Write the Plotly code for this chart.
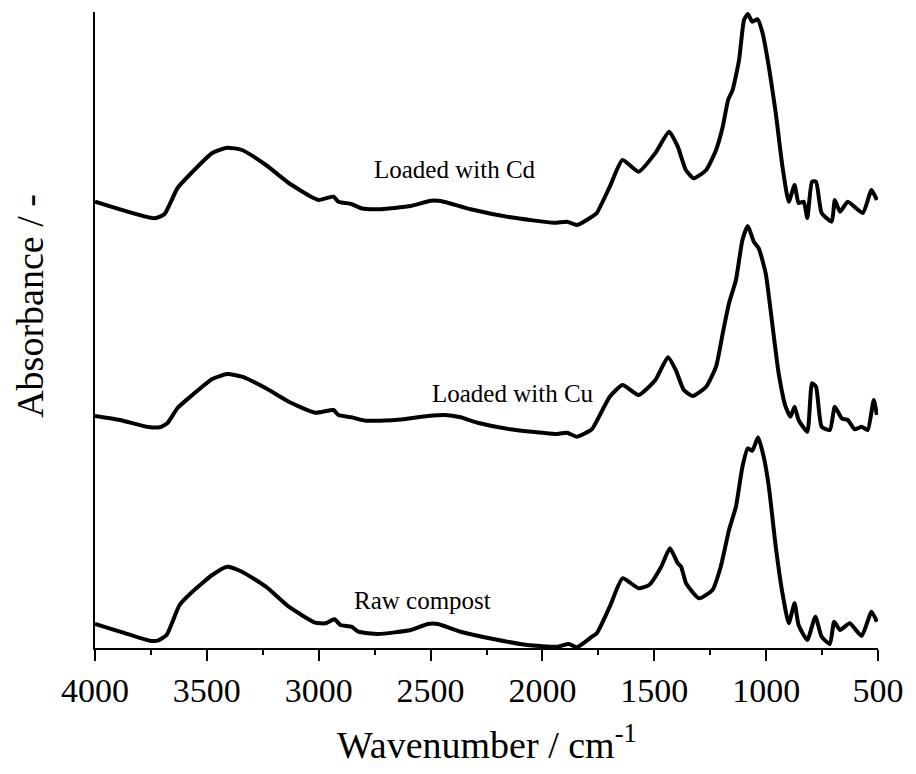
import plotly.graph_objects as go

# Wavenumber (cm-1) and absorbance (arbitrary, offset-stacked units)
cd_wn = [4000, 3733, 3689, 3631, 3565, 3476, 3409, 3343, 3236, 3134, 3032, 3000, 2934, 2912, 2854,
         2810, 2734, 2588, 2499, 2455, 2321, 2143, 1948, 1890, 1846, 1779, 1757, 1699, 1642, 1570,
         1495, 1434, 1395, 1359, 1323, 1268, 1224, 1194, 1170, 1150, 1121, 1099, 1082, 1062, 1038,
         1016, 988, 957, 927, 899, 873, 855, 832, 816, 795, 777, 752, 707, 693, 670, 635, 568, 529, 505]
cd_abs = [446.3, 429.7, 434, 460, 476, 495, 500.3, 498, 483, 465, 451, 448, 451.3, 446.3, 444,
          439.7, 438.7, 442, 447.3, 447, 438.7, 430.7, 425.3, 426.3, 423, 431.3, 435, 461.3, 488, 476.3,
          495, 516.3, 501.3, 478, 469.7, 478, 498, 521.3, 548, 558, 588, 628, 634, 626.3, 628.7,
          615, 581.3, 535, 481.3, 446.3, 463, 445, 446.3, 430, 466.3, 466.3, 435, 426.3, 448, 436.3, 446.3, 435, 458, 448]

cu_wn = [4000, 3889, 3769, 3711, 3676, 3631, 3565, 3476, 3409, 3343, 3236, 3134, 3015, 2934, 2912,
         2854, 2792, 2659, 2512, 2437, 2366, 2290, 2143, 1935, 1890, 1846, 1779, 1757, 1699, 1642,
         1570, 1495, 1439, 1404, 1368, 1328, 1268, 1224, 1194, 1166, 1135, 1106, 1082, 1055, 1033,
         1002, 971, 944, 913, 891, 873, 855, 816, 795, 777, 752, 715, 693, 662, 635, 604, 573, 546, 519, 505]
cu_abs = [232, 228, 221.3, 220.7, 225, 240, 253, 269, 274, 271.3, 259.7, 246.3, 235.3, 238, 233,
          230.7, 227.3, 228, 232, 233, 230.7, 225.3, 218.7, 214, 215.3, 211.3, 218.7, 227, 251.3, 263,
          253, 268, 290.7, 278, 258, 252, 261.3, 281.3, 314.7, 344.7, 368, 408, 422, 406.3, 399.7,
          374.7, 321.3, 274.7, 241.3, 231.3, 241.3, 228, 216.3, 264.7, 261.3, 221.3, 218, 241.3, 229.7, 228, 218.7, 221.3, 218, 248, 233]

raw_wn = [4000, 3889, 3756, 3720, 3680, 3622, 3565, 3476, 3409, 3343, 3236, 3134, 3015, 2970, 2929,
          2903, 2854, 2823, 2734, 2588, 2512, 2468, 2366, 2214, 2067, 1935, 1882, 1846, 1779, 1757,
          1699, 1642, 1570, 1523, 1469, 1430, 1395, 1380, 1358, 1300, 1240, 1203, 1166, 1135, 1106,
          1082, 1062, 1036, 1011, 988, 957, 927, 899, 873, 855, 816, 780, 752, 715, 696, 670, 626, 573, 529, 505]
raw_abs = [24, 16.3, 7.3, 7.3, 13, 43, 56.3, 73, 81.3, 76.3, 61.3, 41.3, 25.3, 24.7, 28.7,
           23, 21.3, 16.3, 14, 18, 24, 24, 16.3, 8.7, 3, 1.3, 4, 0.7, 11.3, 14.7,
           41.3, 69.7, 59.7, 63, 81.3, 99.7, 84.7, 81.3, 64.7, 49.7, 58, 81.3, 118, 141.3, 181.3,
           199.7, 197.3, 210.7, 191.3, 161.3, 101.3, 54.7, 24.7, 44.7, 23, 8, 31.3, 11.3, 4, 26.3, 18, 24.7, 12, 36.3, 26.3]

series_names = ["Loaded with Cd", "Loaded with Cu", "Raw compost"]
label_wn = [2390, 2132, 2536]
label_abs = [479, 255, 48]

x_ticks = [4000, 3500, 3000, 2500, 2000, 1500, 1000, 500]

FONT = "Liberation Serif, Times New Roman, serif"

fig = go.Figure()
for wn, ab, name in zip([cd_wn, cu_wn, raw_wn], [cd_abs, cu_abs, raw_abs], series_names):
    fig.add_trace(go.Scatter(x=wn, y=ab, mode="lines", name=name,
                             line=dict(color="black", width=4, shape="spline", smoothing=0.5),
                             showlegend=False))

for name, xw, ya in zip(series_names, label_wn, label_abs):
    fig.add_annotation(x=xw, y=ya, xref="x", yref="y", text=name, showarrow=False,
                       font=dict(family=FONT, size=25, color="black"),
                       xanchor="center", yanchor="middle")

fig.add_annotation(x=0.5, y=-0.148, xref="paper", yref="paper",
                   text="Wavenumber / cm<sup>-1</sup>", showarrow=False,
                   font=dict(family=FONT, size=38, color="black"),
                   xanchor="center", yanchor="middle")
fig.add_annotation(x=-0.083, y=0.538, xref="paper", yref="paper",
                   text="Absorbance / -", showarrow=False, textangle=-90,
                   font=dict(family=FONT, size=38, color="black"),
                   xanchor="center", yanchor="middle")

fig.update_xaxes(range=[4000, 500], tickvals=x_ticks, ticktext=[str(v) for v in x_ticks],
                 showline=True, linecolor="black", linewidth=2, mirror=False,
                 ticks="outside", ticklen=11, tickwidth=2, tickcolor="black",
                 minor=dict(tickvals=[3750, 3250, 2750, 2250, 1750, 1250, 750], ticks="outside",
                            ticklen=5, tickwidth=2, tickcolor="black"),
                 showgrid=False, zeroline=False,
                 tickfont=dict(family=FONT, size=34, color="black"))
fig.update_yaxes(range=[0, 636], showline=True, linecolor="black", linewidth=2,
                 showticklabels=False, ticks="", showgrid=False, zeroline=False)

fig.update_layout(width=916, height=774, margin=dict(l=95, r=33, t=12, b=126),
                  plot_bgcolor="white", paper_bgcolor="white")

fig.write_html("out.html")
